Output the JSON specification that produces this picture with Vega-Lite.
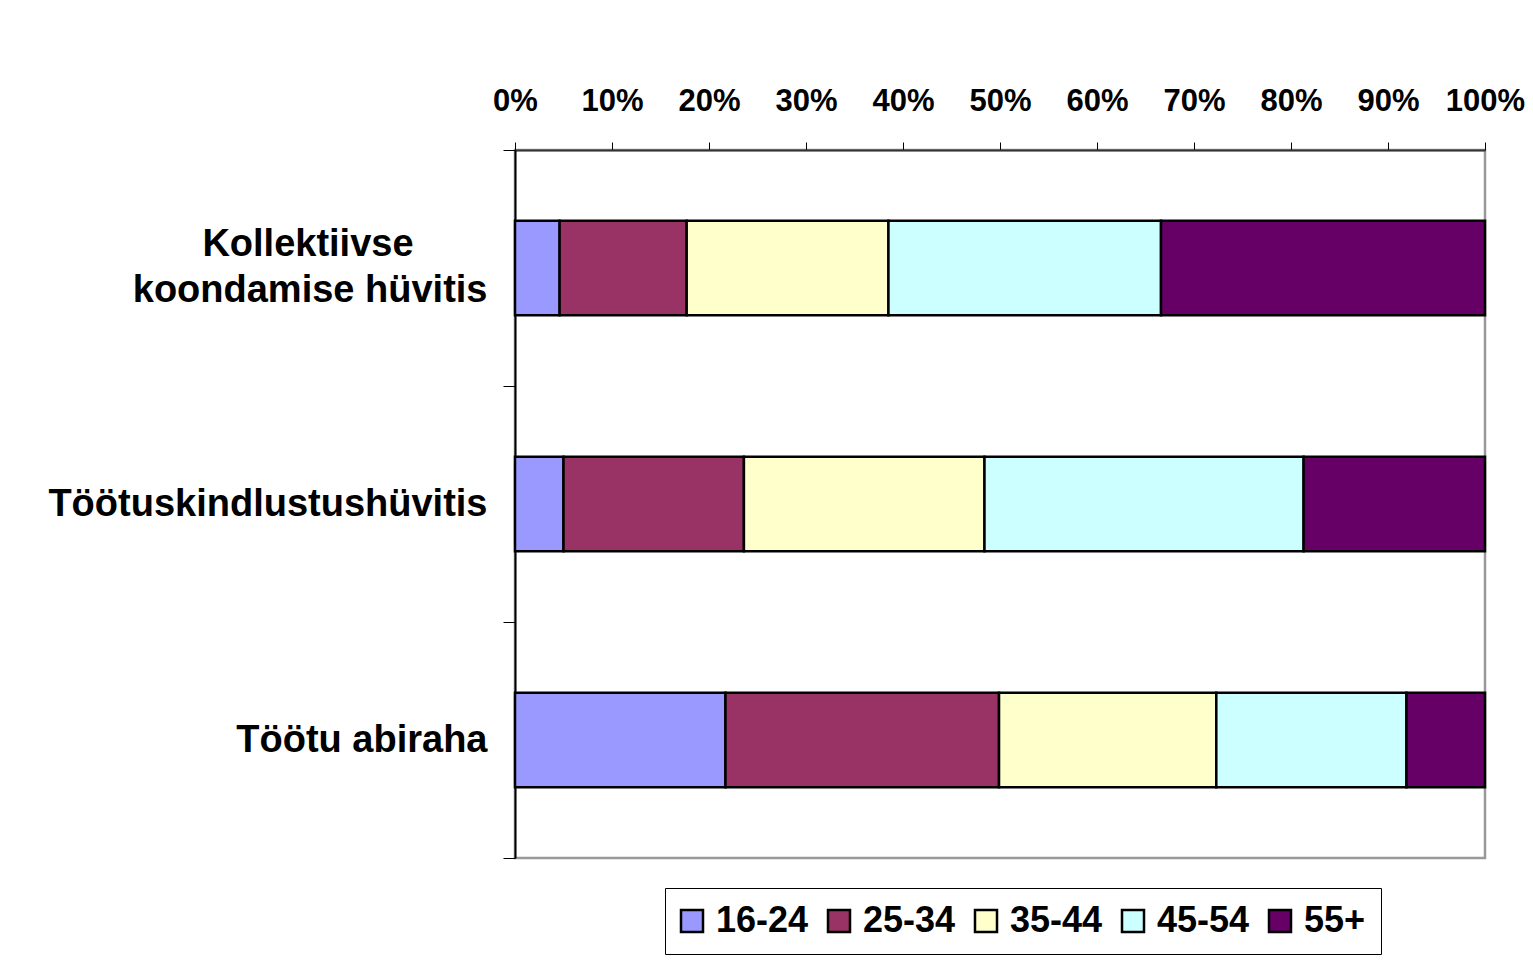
{
  "$schema": "https://vega.github.io/schema/vega-lite/v6.json",
  "width": 970,
  "height": 708,
  "autosize": {"type": "none"},
  "padding": {"left": 515, "top": 150, "right": 48, "bottom": 106},
  "background": "white",
  "config": {
    "font": "Liberation Sans",
    "view": {"stroke": "#999999", "strokeWidth": 2.5}
  },
  "data": {
    "values": [
      {"hyvitis": "Kollektiivse koondamise hüvitis", "vanus": "16-24", "osa": 4.6},
      {"hyvitis": "Kollektiivse koondamise hüvitis", "vanus": "25-34", "osa": 13.1},
      {"hyvitis": "Kollektiivse koondamise hüvitis", "vanus": "35-44", "osa": 20.8},
      {"hyvitis": "Kollektiivse koondamise hüvitis", "vanus": "45-54", "osa": 28.1},
      {"hyvitis": "Kollektiivse koondamise hüvitis", "vanus": "55+", "osa": 33.4},
      {"hyvitis": "Töötuskindlustushüvitis", "vanus": "16-24", "osa": 5.0},
      {"hyvitis": "Töötuskindlustushüvitis", "vanus": "25-34", "osa": 18.6},
      {"hyvitis": "Töötuskindlustushüvitis", "vanus": "35-44", "osa": 24.8},
      {"hyvitis": "Töötuskindlustushüvitis", "vanus": "45-54", "osa": 32.9},
      {"hyvitis": "Töötuskindlustushüvitis", "vanus": "55+", "osa": 18.7},
      {"hyvitis": "Töötu abiraha", "vanus": "16-24", "osa": 21.7},
      {"hyvitis": "Töötu abiraha", "vanus": "25-34", "osa": 28.2},
      {"hyvitis": "Töötu abiraha", "vanus": "35-44", "osa": 22.4},
      {"hyvitis": "Töötu abiraha", "vanus": "45-54", "osa": 19.6},
      {"hyvitis": "Töötu abiraha", "vanus": "55+", "osa": 8.1}
    ]
  },
  "mark": {"type": "bar", "height": {"band": 0.4}, "stroke": "black", "strokeWidth": 2.5},
  "encoding": {
    "y": {
      "field": "hyvitis",
      "type": "nominal",
      "sort": ["Kollektiivse koondamise hüvitis", "Töötuskindlustushüvitis", "Töötu abiraha"],
      "scale": {"paddingInner": 0, "paddingOuter": 0},
      "axis": {
        "title": null,
        "tickBand": "extent",
        "tickSize": 12,
        "tickColor": "black",
        "domainColor": "black",
        "domainWidth": 2,
        "labelPadding": 16,
        "labelFontSize": 38,
        "labelFontWeight": "bold",
        "labelColor": "black",
        "labelAlign": "right",
        "labelLimit": 700,
        "labelLineHeight": 46,
        "labelOffset": {"condition": {"test": "datum.value == 'Kollektiivse koondamise hüvitis'", "value": -24}, "value": 0},
        "labelExpr": "datum.value == 'Kollektiivse koondamise hüvitis' ? ['Kollektiivse\u00a0\u00a0\u00a0\u00a0\u00a0\u00a0\u00a0\u2060', 'koondamise hüvitis'] : datum.value"
      }
    },
    "x": {
      "field": "osa",
      "type": "quantitative",
      "stack": "normalize",
      "scale": {"domain": [0, 1]},
      "axis": {
        "orient": "top",
        "title": null,
        "grid": false,
        "values": [0, 0.1, 0.2, 0.3, 0.4, 0.5, 0.6, 0.7, 0.8, 0.9, 1],
        "format": ".0%",
        "tickSize": 8,
        "tickColor": "black",
        "domainColor": "#333333",
        "domainWidth": 2,
        "labelPadding": 25,
        "labelFontSize": 31,
        "labelFontWeight": "bold",
        "labelColor": "black",
        "labelFlush": false
      }
    },
    "color": {
      "field": "vanus",
      "type": "nominal",
      "scale": {
        "domain": ["16-24", "25-34", "35-44", "45-54", "55+"],
        "range": ["#9999FF", "#993366", "#FFFFCC", "#CCFFFF", "#660066"]
      },
      "legend": {
        "title": null,
        "orient": "none",
        "legendX": 150,
        "legendY": 738,
        "direction": "horizontal",
        "columns": 5,
        "strokeColor": "black",
        "fillColor": "white",
        "padding": 15,
        "symbolType": "square",
        "symbolSize": 484,
        "symbolOffset": -6,
        "symbolStrokeColor": "black",
        "symbolStrokeWidth": 2.5,
        "symbolOpacity": 1,
        "labelFontSize": 36,
        "labelFontWeight": "bold",
        "labelColor": "black",
        "labelOffset": 6,
        "columnPadding": 14
      }
    },
    "order": {"field": "vanus", "sort": "ascending"}
  }
}
